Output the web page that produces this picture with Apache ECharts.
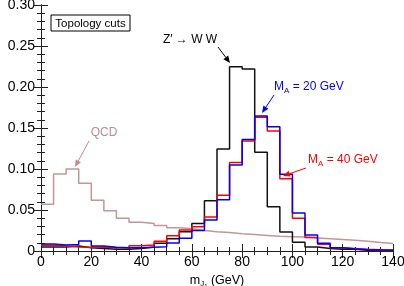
<!DOCTYPE html>
<html>
<head>
<meta charset="utf-8">
<script src="https://cdn.jsdelivr.net/npm/echarts@6/dist/echarts.min.js"></script>
<style>
html,body{margin:0;padding:0;background:#fff;}
#c{width:404px;height:286px;}
</style>
</head>
<body>
<div id="c"></div>
<script>
// Bin edges: 0..140 GeV, 5 GeV bins (28 bins), value = left edge
var binLeft = [0,5,10,15,20,25,30,35,40,45,50,55,60,65,70,75,80,85,90,95,100,105,110,115,120,125,130,135];
var binWidth = 5;
var zprimeWW = [0.005,0.005,0.006,0.004,0.003,0.002,0.002,0.003,0.005,0.0095,0.015,0.0235,0.0335,0.0613,0.1244,0.2248,0.222,0.1203,0.054,0.0232,0.0106,0.005,0.003,0.002,0.002,0.001,0.001,0.001];
var mA20 = [0.0085,0.0073,0.008,0.0122,0.006,0.0045,0.004,0.004,0.0045,0.0053,0.0098,0.0155,0.025,0.0378,0.0626,0.105,0.136,0.1646,0.1516,0.0937,0.0463,0.0195,0.0094,0.004,0.0025,0.0015,0.0012,0.001];
var mA40 = [0.007,0.006,0.005,0.0045,0.005,0.004,0.004,0.0065,0.0073,0.012,0.0185,0.0256,0.0297,0.0415,0.068,0.108,0.134,0.163,0.1463,0.088,0.040,0.0165,0.0081,0.004,0.003,0.002,0.0015,0.001];
var qcd = [0.057,0.094,0.100,0.0825,0.062,0.049,0.040,0.035,0.0335,0.031,0.0285,0.027,0.025,0.0235,0.0225,0.021,0.020,0.019,0.018,0.0175,0.017,0.016,0.015,0.014,0.013,0.012,0.0105,0.009];
var yTicks = [0,0.05,0.10,0.15,0.20,0.25,0.30];
var xTicks = [0,20,40,60,80,100,120,140];

function steps(vals){
  var pts = binLeft.map(function(x,i){return [x, vals[i]];});
  pts.push([binLeft[binLeft.length-1]+binWidth, vals[vals.length-1]]);
  return pts;
}

var FONT = '"Liberation Sans", Arial, Helvetica, sans-serif';
var chart = echarts.init(document.getElementById('c'), null, {renderer:'canvas'});

function arrow(x1,y1,x2,y2,color){
  var ang = Math.atan2(y2-y1, x2-x1), L=7, W=3;
  var bx = x2 - L*Math.cos(ang), by = y2 - L*Math.sin(ang);
  var px = -Math.sin(ang)*W, py = Math.cos(ang)*W;
  return [
    {type:'line', shape:{x1:x1,y1:y1,x2:bx,y2:by}, style:{stroke:color, lineWidth:1}, z:100},
    {type:'polygon', shape:{points:[[x2,y2],[bx+px,by+py],[bx-px,by-py]]}, style:{fill:color}, z:100}
  ];
}

var axisCommon = {
  type:'value', min:0,
  axisLine:{show:true, lineStyle:{color:'#222', width:1}},
  axisTick:{show:true, inside:true, length:7, lineStyle:{color:'#222'}},
  splitLine:{show:false}
};

function mk(name, vals, color, w, z){
  return {name:name, type:'line', step:'end', data:steps(vals), symbol:'none',
          lineStyle:{color:color, width:w}, xAxisIndex:0, yAxisIndex:0, z:z, animation:false};
}

var graphics = [];
graphics.push({type:'rect', shape:{x:51, y:15, width:79, height:16}, style:{fill:'#fff', stroke:'#000', lineWidth:1}, z:100});
graphics.push({type:'text', x:90.5, y:23.5, style:{text:'Topology cuts', font:'11.5px '+FONT, fill:'#000', align:'center', verticalAlign:'middle'}, z:101});
graphics.push({type:'text', x:190, y:40, style:{text:'Z\u2032 \u2192 W W', font:'12px '+FONT, fill:'#000', align:'center', verticalAlign:'middle'}, z:101});
graphics = graphics.concat(arrow(218,47,230,63,'#000'));
graphics.push({type:'text', x:274, y:87, style:{rich:{n:{font:'12px '+FONT, fill:'#0000ff'}, s:{font:'8px '+FONT, fill:'#0000ff', padding:[7,0,0,0]}}, text:'{n|M}{s|A}{n| = 20 GeV}', verticalAlign:'middle'}, z:101});
graphics = graphics.concat(arrow(274,95,262,113,'#0000ff'));
graphics.push({type:'text', x:308, y:160, style:{rich:{n:{font:'12px '+FONT, fill:'#ff0000'}, s:{font:'8px '+FONT, fill:'#ff0000', padding:[7,0,0,0]}}, text:'{n|M}{s|A}{n| = 40 GeV}', verticalAlign:'middle'}, z:101});
graphics = graphics.concat(arrow(306,168,283,176,'#ff0000'));
graphics.push({type:'text', x:104, y:133, style:{text:'QCD', font:'12px '+FONT, fill:'#c08a8a', align:'center', verticalAlign:'middle'}, z:101});
graphics = graphics.concat(arrow(89,141,75,167,'#c08a8a'));

chart.setOption({
  animation:false,
  backgroundColor:'#fff',
  grid:{left:41, right:11, top:5, bottom:35, containLabel:false, outerBoundsMode:'none'},
  xAxis:[
    Object.assign({}, axisCommon, {position:'bottom', max:140, interval:20, minorTick:{show:true, splitNumber:4, length:4, lineStyle:{color:'#222'}},
      axisLabel:{show:true, margin:4, color:'#000', fontSize:14, fontFamily:FONT, formatter:function(v){return xTicks.indexOf(v)>=0?String(v):'';}},
      name:'{m|m}{s|J}{ss|1}{m| (GeV)}', nameLocation:'middle', nameGap:13,
      nameTextStyle:{rich:{m:{fontSize:12.5, fontFamily:FONT, color:'#000'}, s:{fontSize:8, fontFamily:FONT, color:'#000', padding:[6,0,0,0]}, ss:{fontSize:6, fontFamily:FONT, color:'#000', padding:[11,0,0,0]}}}}),
    Object.assign({}, axisCommon, {position:'top', max:140, interval:20, minorTick:{show:true, splitNumber:4, length:4, lineStyle:{color:'#222'}}, axisLabel:{show:false}})
  ],
  yAxis:[
    Object.assign({}, axisCommon, {position:'left', max:0.30, interval:0.05, minorTick:{show:true, splitNumber:5, length:4, lineStyle:{color:'#222'}},
      axisLabel:{show:true, margin:6, color:'#000', fontSize:14, fontFamily:FONT, formatter:function(v){var r=Math.round(v*100)/100; return yTicks.indexOf(r)>=0 ? (r===0?'0':r.toFixed(2)) : '';}},
      name:'Events (normalised)', nameLocation:'middle', nameGap:29, nameRotate:90,
      nameTextStyle:{fontSize:12, fontFamily:FONT, color:'#000'}}),
    Object.assign({}, axisCommon, {position:'right', max:0.30, interval:0.05, minorTick:{show:true, splitNumber:5, length:4, lineStyle:{color:'#222'}}, axisLabel:{show:false}})
  ],
  series:[
    mk('QCD', qcd, '#c49696', 1.5, 2),
    mk("Z'->WW", zprimeWW, '#111111', 1.5, 3),
    mk('MA40', mA40, '#ff0000', 1.5, 4),
    mk('MA20', mA20, '#0000ff', 1.5, 5)
  ],
  graphic:graphics
});
</script>
</body>
</html>
